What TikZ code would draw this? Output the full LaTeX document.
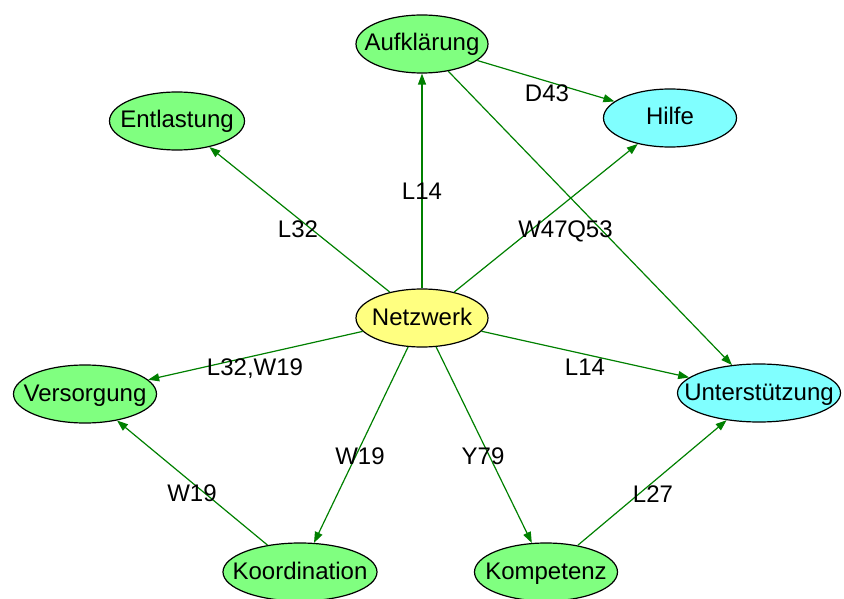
\documentclass[tikz,border=0pt]{standalone}
\usepackage{fontspec}
\setmainfont{Liberation Sans}
\usetikzlibrary{arrows.meta,shapes.geometric}
\definecolor{leafgreen}{RGB}{128,255,128}
\definecolor{leafcyan}{RGB}{128,255,255}
\definecolor{hubyellow}{RGB}{255,255,128}
\definecolor{linkgreen}{RGB}{0,128,0}
\begin{document}
\begin{tikzpicture}[x=1pt,y=-1pt,
  every node/.style={font=\fontsize{24}{28}\selectfont, text height=18pt, text depth=4pt, inner sep=0pt},
  topic/.style={ellipse, draw=black, line width=1.2pt, minimum height=58pt, fill=leafgreen},
  target/.style={topic, fill=leafcyan},
  hub/.style={topic, fill=hubyellow},
  link/.style={draw=linkgreen, line width=1.2pt, -{Triangle[length=11pt,width=8pt]}},
  lbl/.style={}]
\useasboundingbox (0,0) rectangle (844,599);

% nodes
\node[topic,  minimum width=132pt] (auf)  at (422,44)  {\makebox[0pt]{Aufklärung}};
\node[topic,  minimum width=135pt] (ent)  at (177,121) {\makebox[0pt]{Entlastung}};
\node[target, minimum width=133pt] (hil)  at (670,118) {\makebox[0pt]{Hilfe}};
\node[hub,    minimum width=132pt] (net)  at (422,318) {\makebox[0pt]{Netzwerk}};
\node[topic,  minimum width=143pt] (ver)  at (85,394)  {\makebox[0pt]{Versorgung}};
\node[target, minimum width=163pt] (unt)  at (759,393) {\makebox[0pt]{Unterstützung}};
\node[topic,  minimum width=154pt] (koo)  at (300,572) {\makebox[0pt]{Koordination}};
\node[topic,  minimum width=143pt] (kom)  at (546,572) {\makebox[0pt]{Kompetenz}};

% connectors
\draw[link] (auf) -- (hil);
\draw[link] (auf) -- (unt);
\draw[link] (net) -- (auf);
\draw[link] (net) -- (ent);
\draw[link] (net) -- (hil);
\draw[link] (net) -- (ver);
\draw[link] (net) -- (unt);
\draw[link] (net) -- (koo);
\draw[link] (net) -- (kom);
\draw[link] (koo) -- (ver);
\draw[link] (kom) -- (unt);

% connector labels
\node[lbl] (lD43)  at (547,95)  {D43};
\node[lbl] (lQ53)  at (590,230) {Q53};
\node[lbl] (lL14a) at (422,193) {L14};
\node[lbl] (lL32)  at (298,230) {L32};
\node[lbl] (lW47)  at (543,230) {W47};
\node[lbl] (lLW)   at (255,368) {L32,W19};
\node[lbl] (lL14b) at (585,368) {L14};
\node[lbl] (lW19a) at (360,457) {W19};
\node[lbl] (lY79)  at (483,457) {Y79};
\node[lbl] (lW19b) at (192,494) {W19};
\node[lbl] (lL27)  at (653,495) {L27};
\end{tikzpicture}
\end{document}
